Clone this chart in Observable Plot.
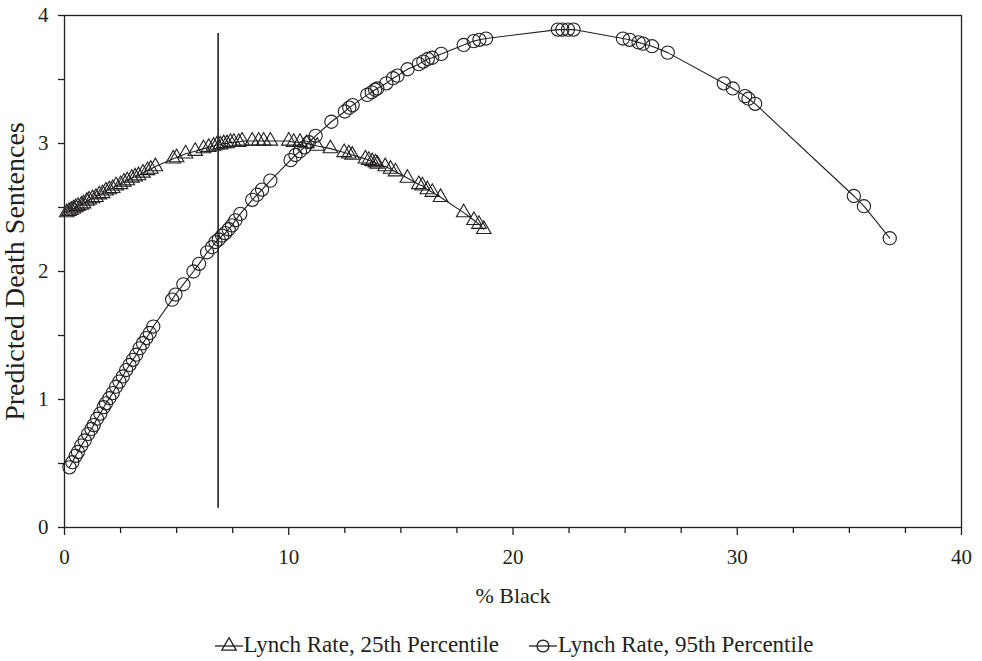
<!DOCTYPE html>
<html>
<head>
<meta charset="utf-8">
<script src="https://cdn.jsdelivr.net/npm/d3@7"></script>
<script src="https://cdn.jsdelivr.net/npm/@observablehq/plot@0.6"></script>
<style>
  html, body { margin: 0; padding: 0; background: #fff; }
  #chart { width: 982px; }
  .legend { display: flex; justify-content: center; gap: 30px; font-family: "Liberation Serif", "DejaVu Serif", serif; font-size: 23px; color: #231f20; margin-top: 20px; margin-left: 46px; }
  .legend span.item { display: inline-flex; align-items: center; gap: 1px; }
</style>
</head>
<body>
<div id="chart"></div>
<script>
// ---- data ----
const tri25X = [0.1,0.2,0.3,0.4,0.5,0.6,0.75,0.85,1.0,1.1,1.25,1.4,1.55,1.7,1.85,2.0,2.15,2.3,2.5,2.65,2.8,3.0,3.15,3.3,3.5,3.7,3.85,4.05,
  4.85,5.0,5.4,5.83,6.2,6.43,6.65,6.8,6.95,7.1,7.25,7.4,7.55,7.77,7.92,8.37,8.66,8.88,9.18,10.0,10.22,10.5,10.8,11.27,11.86,
  12.47,12.68,12.83,13.42,13.57,13.72,13.87,13.95,14.3,14.54,14.76,15.29,15.8,15.96,16.18,16.4,16.77,17.8,18.26,18.48,18.7];
const tri25Y = [2.46,2.47,2.48,2.49,2.50,2.51,2.52,2.53,2.55,2.56,2.57,2.58,2.60,2.61,2.63,2.64,2.65,2.67,2.68,2.70,2.71,2.73,2.74,2.75,2.77,2.79,2.80,2.82,
  2.88,2.89,2.92,2.94,2.96,2.97,2.98,2.99,2.99,3.00,3.00,3.01,3.01,3.01,3.02,3.02,3.02,3.02,3.02,3.02,3.01,3.01,3.00,2.98,2.96,
  2.93,2.92,2.91,2.88,2.87,2.86,2.85,2.84,2.82,2.80,2.78,2.73,2.68,2.67,2.64,2.62,2.58,2.46,2.40,2.37,2.33];

const circ95X = [0.22,0.35,0.5,0.6,0.75,0.9,1.05,1.2,1.3,1.45,1.6,1.75,1.85,2.0,2.15,2.3,2.45,2.6,2.75,2.9,3.05,3.2,3.35,3.5,3.65,3.8,3.96,
  4.8,4.95,5.3,5.75,6.0,6.36,6.58,6.73,6.88,7.03,7.17,7.32,7.47,7.62,7.84,8.37,8.59,8.81,9.18,10.08,10.3,10.5,10.7,10.9,11.2,11.9,
  12.5,12.7,12.85,13.5,13.7,13.85,13.95,14.35,14.65,14.85,15.3,15.8,16.0,16.2,16.4,16.8,17.8,18.25,18.5,18.8,
  22.0,22.2,22.45,22.7,24.9,25.2,25.6,25.8,26.2,26.9,29.4,29.8,30.35,30.5,30.8,35.2,35.65,36.8];
const circ95Y = [0.47,0.51,0.56,0.59,0.64,0.68,0.73,0.77,0.80,0.85,0.89,0.94,0.97,1.01,1.05,1.10,1.14,1.18,1.23,1.27,1.31,1.35,1.40,1.44,1.48,1.52,1.57,
  1.78,1.82,1.90,2.00,2.06,2.15,2.19,2.23,2.25,2.28,2.30,2.33,2.36,2.40,2.45,2.56,2.60,2.64,2.71,2.87,2.91,2.94,2.97,3.01,3.06,3.17,
  3.25,3.28,3.30,3.38,3.40,3.42,3.43,3.47,3.51,3.53,3.58,3.62,3.64,3.66,3.67,3.70,3.77,3.80,3.81,3.82,
  3.89,3.89,3.89,3.89,3.82,3.81,3.79,3.78,3.76,3.71,3.47,3.43,3.37,3.35,3.31,2.59,2.51,2.26];

const refLineX = [6.85];
const refLineY = [0.15, 3.86];

const xMajorTicks = [0, 10, 20, 30, 40];
const xMinorTicks = [2.5, 5, 7.5, 12.5, 15, 17.5, 22.5, 25, 27.5, 32.5, 35, 37.5];
const yMajorTicks = [0, 1, 2, 3, 4];
const yMinorTicks = [0.5, 1.5, 2.5, 3.5];

const xLabel = ["% Black"];
const yLabel = ["Predicted Death Sentences"];
const seriesNames = ["Lynch Rate, 25th Percentile", "Lynch Rate, 95th Percentile"];

// ---- build tables ----
const tri = tri25X.map((x, i) => ({x, y: tri25Y[i]}));
const circ = circ95X.map((x, i) => ({x, y: circ95Y[i]}));

const ink = "#231f20";
const font = "'Liberation Serif', 'DejaVu Serif', serif";

const plot = Plot.plot({
  width: 982,
  height: 612,
  marginLeft: 64,
  marginRight: 21,
  marginTop: 15,
  marginBottom: 85,
  style: {fontFamily: font, fontSize: "21px", color: ink, background: "#fff"},
  x: {domain: [0, 40]},
  y: {domain: [0, 4]},
  marks: [
    Plot.frame({stroke: ink, strokeWidth: 1.3}),
    Plot.axisX({ticks: xMinorTicks, tickSize: 6, tickFormat: () => "", label: null, strokeWidth: 1.3}),
    Plot.axisX({ticks: xMajorTicks, tickSize: 8, tickPadding: 14, fontSize: 21, tickFormat: d3.format("d"), label: null, strokeWidth: 1.3}),
    Plot.axisY({ticks: yMinorTicks, tickSize: 6, tickFormat: () => "", label: null, strokeWidth: 1.3}),
    Plot.axisY({ticks: yMajorTicks, tickSize: 6, tickPadding: 10, fontSize: 21, tickFormat: d3.format("d"), label: null, strokeWidth: 1.3}),
    Plot.text(xLabel, {text: d => d, frameAnchor: "bottom", dy: 75, fontSize: 22, fill: ink}),
    Plot.text(yLabel, {text: d => d, frameAnchor: "left", textAnchor: "middle", rotate: -90, dx: -49, fontSize: 28, fill: ink}),
    Plot.ruleX(refLineX, {x: d => d, y1: refLineY[0], y2: refLineY[1], stroke: ink, strokeWidth: 1.6}),
    Plot.line(tri, {x: "x", y: "y", stroke: ink, strokeWidth: 1.1}),
    Plot.dot(tri, {x: "x", y: "y", symbol: "triangle", r: 5.4, stroke: ink, fill: "none", strokeWidth: 1.1}),
    Plot.line(circ, {x: "x", y: "y", stroke: ink, strokeWidth: 1.1}),
    Plot.dot(circ, {x: "x", y: "y", symbol: "circle", r: 6.6, stroke: ink, fill: "none", strokeWidth: 1.1})
  ]
});
document.getElementById("chart").appendChild(plot);

// ---- legend ----
const legend = document.createElement("div");
legend.className = "legend";
const symbols = ["triangle", "circle"];
seriesNames.forEach((name, i) => {
  const item = document.createElement("span");
  item.className = "item";
  const sw = d3.create("svg").attr("width", 28).attr("height", 22);
  sw.append("line").attr("x1", 0).attr("x2", 28).attr("y1", 12).attr("y2", 12).attr("stroke", ink).attr("stroke-width", 1.3);
  const sym = symbols[i] === "triangle" ? d3.symbolTriangle : d3.symbolCircle;
  const size = symbols[i] === "triangle" ? 90 : 110;
  sw.append("path").attr("d", d3.symbol(sym, size)()).attr("transform", "translate(14,12)").attr("fill", "none").attr("stroke", ink).attr("stroke-width", 1.3);
  item.appendChild(sw.node());
  const t = document.createElement("span");
  t.textContent = name;
  item.appendChild(t);
  legend.appendChild(item);
});
document.getElementById("chart").appendChild(legend);
</script>
</body>
</html>
